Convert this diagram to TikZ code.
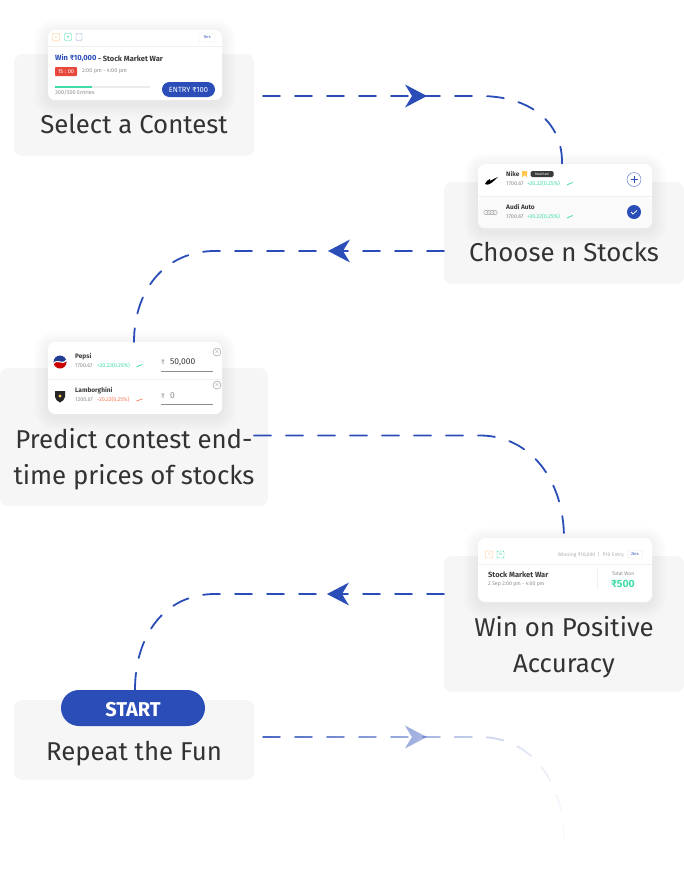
\documentclass[tikz,border=0pt]{standalone}
\usepackage{fontspec}
\setmainfont{Fira Sans}
\usetikzlibrary{arrows.meta,decorations.markings,fadings}
\definecolor{flowblue}{HTML}{2A4DB8}
\definecolor{panelgray}{HTML}{F6F6F6}
\definecolor{inkdark}{HTML}{3A3A3A}
\definecolor{inkgray}{HTML}{8C8C8C}
\definecolor{upgreen}{HTML}{3FDCAA}
\definecolor{downred}{HTML}{FA7A5A}
\definecolor{timerred}{HTML}{E8483C}
\definecolor{markyellow}{HTML}{FFC94D}
\tikzfading[name=flowfade,left color=transparent!15,right color=transparent!97]
\tikzset{
    panel/.style={fill=panelgray,rounded corners=8pt,inner sep=0pt,outer sep=0pt},
    steplabel/.style={font=\fontsize{25.8}{30}\selectfont,text=black!80,inner sep=0pt,anchor=base},
    card/.style={fill=white,rounded corners=7pt,inner sep=0pt,outer sep=0pt},
    wee/.style={font=\fontsize{5.5}{6}\selectfont,inner sep=0pt,anchor=west,text=inkgray},
    weebold/.style={font=\fontsize{6.5}{7}\selectfont\bfseries,inner sep=0pt,anchor=west,text=inkdark},
    tag/.style={draw=#1,rounded corners=1pt,line width=.4pt,font=\fontsize{3.5}{4}\selectfont,text=#1,inner sep=0pt,minimum width=7pt,minimum height=7pt},
    hairline/.style={draw=black!6,line width=.6pt},
    flow/.style={draw=flowblue,line width=1.8pt,line cap=round,dash pattern=on 17pt off 15pt},
    flowtip/.style={postaction={decorate,decoration={markings,mark=at position #1 with {\arrow[solid]{Stealth[length=22pt,width=23pt,inset=7pt,line width=0pt]}}}}},
}
% card with a soft shadow under it
\newcommand{\softcard}[5]{%
    \foreach \s in {14,12,10,8,6,4,2}
        \fill[black,opacity=.008,rounded corners={(\s+7)*1pt}] (#2-\s,#3-\s+3) rectangle (#4+\s,#5+\s+3);
    \node[card,minimum width=#4pt-#2pt,minimum height=#5pt-#3pt] (#1) at ({(#2+#4)/2},{(#3+#5)/2}) {};
}
\begin{document}
\begin{tikzpicture}[x=1pt,y=-1pt]
    \useasboundingbox (0,0) rectangle (684,884);
    \node[panel,minimum width=240pt,minimum height=102pt] (selectpanel) at (134,105) {};
    \node[panel,minimum width=240pt,minimum height=102pt] (choosepanel) at (564,233) {};
    \node[panel,minimum width=268pt,minimum height=138pt] (predictpanel) at (134,437) {};
    \node[panel,minimum width=240pt,minimum height=136pt] (winpanel) at (564,624) {};
    \node[panel,minimum width=240pt,minimum height=80pt] (repeatpanel) at (134,740) {};

    \node[steplabel] (selectlabel) at (134,133) {Select a Contest};
    \node[steplabel] (chooselabel) at (564,261) {Choose n Stocks};
    \node[steplabel] (predictlabela) at (134,448) {Predict contest end-};
    \node[steplabel] (predictlabelb) at (134,484) {time prices of stocks};
    \node[steplabel] (winlabela) at (564,636) {Win on Positive};
    \node[steplabel] (winlabelb) at (564,672) {Accuracy};
    \node[steplabel] (repeatlabel) at (134,760) {Repeat the Fun};

    % contest card
    \softcard{contestcard}{48}{30}{222}{100}
    \node[tag=orange!50] (contestsix) at (56,37) {6};
    \node[tag=upgreen] (contestm) at (68,37) {M};
    \node[tag=flowblue!50,minimum width=6pt] (contestdoc) at (79,37) {};
    \node[draw=black!8,rounded corners=1.5pt,line width=.4pt,minimum width=16pt,minimum height=9pt,inner sep=0pt,font=\fontsize{4}{5}\selectfont,text=flowblue] (contesthrs) at (207,37.5) {1hrs};
    \draw[hairline] (48,46) -- (222,46);
    \node[weebold,text=flowblue,font=\fontsize{7.5}{8}\selectfont\bfseries] (contestwin) at (55,58.5) {Win ₹10,000};
    \node[weebold,anchor=west,font=\fontsize{7.5}{8}\selectfont\bfseries] (contestwar) at (contestwin.east) {\,- Stock Market War};
    \node[fill=timerred,rounded corners=.8pt,minimum width=22pt,minimum height=9pt,inner sep=0pt,text=white,font=\fontsize{5.5}{6}\selectfont] (contesttimer) at (66,71.5) {15 : 00};
    \node[wee] (contesttime) at (82,71.5) {2:00 pm - 4:00 pm};
    \node[fill=black!8,minimum width=95pt,minimum height=1.5pt,inner sep=0pt] (contestbar) at (102.5,87) {};
    \node[fill=upgreen,minimum width=37pt,minimum height=1.5pt,inner sep=0pt] (contestfill) at (73.5,87) {};
    \node[wee] (contestentries) at (55,93) {300/500 Entries};
    \node[fill=flowblue,rounded corners=7.5pt,minimum width=53pt,minimum height=15pt,inner sep=0pt,text=white,font=\fontsize{7.5}{8}\selectfont] (contestentry) at (188.5,89.5) {ENTRY ₹100};

    % stock card
    \softcard{stockcard}{478}{164}{652}{228}
    \fill[black!2,rounded corners=7pt] (478,197) rectangle (652,228);
    \draw[hairline] (478,196) -- (652,196);
    \fill[black] (485,184) .. controls (486,181) and (488,180) .. (490,179) -- (490,181) .. controls (492,180) and (495,178) .. (498,177) .. controls (494,181) and (488,187) .. (485,184);
    \node[weebold] (stocknike) at (506,174) {Nike};
    \fill[markyellow] (522,171) -- (527,171) -- (527,177.5) -- (524.5,175) -- (522,177.5) -- cycle;
    \node[fill=inkdark,rounded corners=1.5pt,text=white,minimum width=23pt,minimum height=6pt,inner sep=0pt,font=\fontsize{3.5}{4}\selectfont] (stockbadge) at (542,174) {Matched};
    \node[wee] (stockprice) at (506,184) {1700.67};
    \node[wee,text=upgreen] (stockup) at (527,184) {+20.22(0.25\%)};
    \draw[upgreen,line width=.7pt] (567,185) -- (570,183.5) -- (573,182.5);
    \foreach \r in {486,489,492,495}
        \draw[black!35,line width=.5pt] (\r,212.5) circle (2.2pt);
    \node[weebold] (stockaudi) at (506,207) {Audi Auto};
    \node[wee] (stockpriceb) at (506,217) {1700.67};
    \node[wee,text=upgreen] (stockupb) at (527,217) {+20.22(0.25\%)};
    \draw[upgreen,line width=.7pt] (567,218) -- (570,216.5) -- (573,215.5);
    \node[circle,draw=flowblue!60,line width=.6pt,fill=white,minimum size=14pt,inner sep=0pt] (stockplus) at (634,179.5) {};
    \draw[flowblue,line width=.7pt] (630.5,179.5) -- (637.5,179.5) (634,176) -- (634,183);
    \node[circle,fill=flowblue,minimum size=14pt,inner sep=0pt] (stockcheck) at (634,212) {};
    \draw[white,line width=.8pt] (631,212) -- (633,214) -- (637,210.5);

    % prediction card
    \softcard{pricecard}{48}{342}{222}{414}
    \draw[hairline] (48,379) -- (222,379);
    \fill[red!80!black] (53.5,362) arc (180:0:6.5) -- cycle;
    \fill[flowblue!80!black] (53.5,362) arc (180:360:6.5) -- cycle;
    \draw[white,line width=1.1pt] (53.5,363.5) .. controls (58,358) and (62,366) .. (66.5,360);
    \node[weebold] (pricepepsi) at (75,357) {Pepsi};
    \node[wee] (pricevalue) at (75,366) {1700.67};
    \node[wee,text=upgreen] (priceup) at (97,366) {+20.22(0.25\%)};
    \draw[upgreen,line width=.7pt] (136.5,367) -- (139.5,365.5) -- (142.5,364.5);
    \node[wee,font=\fontsize{6.5}{7}\selectfont] (pricerupee) at (161,362) {₹};
    \node[weebold,font=\fontsize{8.5}{9}\selectfont] (priceinput) at (170,362) {50,000};
    \draw[inkgray,line width=.7pt] (161,371) -- (213,371);
    \node[circle,draw=inkgray,line width=.4pt,minimum size=8pt,inner sep=0pt,font=\fontsize{6}{6}\selectfont,text=inkgray] (priceclose) at (217,352) {$\times$};
    \fill[black!85] (55,391) -- (65,391) -- (65,397) .. controls (65,400) and (62,401) .. (60,402.5) .. controls (58,401) and (55,400) .. (55,397) -- cycle;
    \fill[markyellow] (60,396) circle (1.6pt);
    \node[weebold] (pricelambo) at (75,390.5) {Lamborghini};
    \node[wee] (pricevalueb) at (75,400) {1200.67};
    \node[wee,text=downred] (pricedown) at (97,400) {-20.22(0.25\%)};
    \draw[downred,line width=.7pt] (136.5,401) -- (139.5,400) -- (142.5,399);
    \node[wee,font=\fontsize{6.5}{7}\selectfont] (pricerupeeb) at (161,396) {₹};
    \node[wee,font=\fontsize{8.5}{9}\selectfont] (priceinputb) at (170,395.5) {0};
    \draw[inkgray,line width=.7pt] (161,404.5) -- (213,404.5);
    \node[circle,draw=inkgray,line width=.4pt,minimum size=8pt,inner sep=0pt,font=\fontsize{6}{6}\selectfont,text=inkgray] (pricecloseb) at (217,385) {$\times$};

    % result card
    \softcard{resultcard}{478}{538}{652}{602}
    \node[tag=orange!50] (resultsix) at (489,554.5) {6};
    \node[tag=upgreen] (resultm) at (500.5,554.5) {M};
    \node[wee,anchor=east,text=inkgray!70,font=\fontsize{5.1}{6}\selectfont] (resultfee) at (624,554.5) {Winning ₹10,000 \ | \ ₹10 Entry};
    \node[draw=black!8,rounded corners=1.5pt,line width=.4pt,minimum width=15pt,minimum height=8pt,inner sep=0pt,font=\fontsize{4}{5}\selectfont,text=flowblue] (resulthrs) at (635,554.5) {2hrs};
    \draw[hairline] (478,564) -- (652,564);
    \node[weebold,font=\fontsize{7.5}{8}\selectfont\bfseries] (resultwar) at (488,574.5) {Stock Market War};
    \node[wee,font=\fontsize{5.2}{6}\selectfont] (resultdate) at (488,584.5) {2 Sep 2:00 pm - 4:00 pm};
    \draw[hairline] (597,568) -- (597,590);
    \node[wee,anchor=center,font=\fontsize{5}{6}\selectfont] (resulttotal) at (623,573.5) {Total Won};
    \node[inner sep=0pt,text=upgreen,font=\fontsize{10.5}{12}\selectfont\bfseries] (resultwon) at (623,583.5) {₹500};

    \node[fill=flowblue,rounded corners=18pt,minimum width=144pt,minimum height=36pt,inner sep=0pt,text=white,text height=16pt,text depth=0pt,font=\fontsize{20}{22}\selectfont\bfseries] (startbutton) at (133,708) {START};

    \coordinate (flowa) at (263,96);
    \coordinate (flowb) at (444,251);
    \coordinate (flowc) at (254,435.5);
    \coordinate (flowd) at (444,594);
    \coordinate (flowe) at (263,737);
    \coordinate (flowend) at (564,840);

    \draw[flow,flowtip=164pt] (flowa) -- (480,96) .. controls (530,96) and (563,122) .. ([xshift=-3pt]stockcard.north);
    \draw[flow,flowtip=116pt] (flowb) -- (215,251) .. controls (165,251) and (134,290) .. ([xshift=-1pt]pricecard.north);
    \draw[flow] (flowc) -- (480,435.5) .. controls (530,435.5) and (564,480) .. ([xshift=-1pt]resultcard.north);
    \draw[flow,flowtip=117pt] (flowd) -- (215,594) .. controls (165,594) and (135,635) .. ([xshift=2pt]startbutton.north);
    \draw[flow,flowtip=164pt,path fading=flowfade] (flowe) -- (480,737) .. controls (530,737) and (564,780) .. (flowend);
\end{tikzpicture}
\end{document}
